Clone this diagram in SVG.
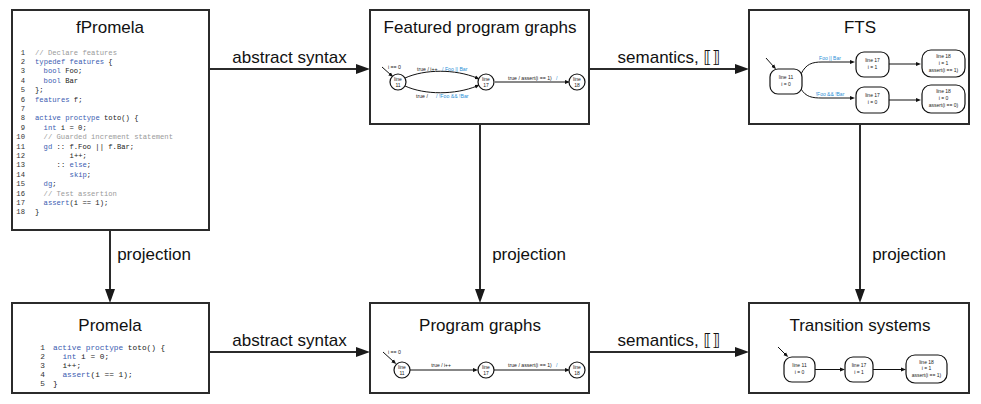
<svg xmlns="http://www.w3.org/2000/svg" width="981" height="404" viewBox="0 0 981 404">
<style>
.box{fill:#fff;stroke:#2b2b2b;stroke-width:2}
.title{font-family:"Liberation Sans",Arial,sans-serif;font-size:17px;fill:#111;text-anchor:middle}
.lbl{font-family:"Liberation Sans",Arial,"DejaVu Sans",sans-serif;font-size:17px;fill:#111;text-anchor:middle}
.conn{stroke:#2b2b2b;stroke-width:2;fill:none}
.code{font-family:"Liberation Mono","DejaVu Sans Mono",monospace;font-size:7.2px;fill:#222}
.code2{font-family:"Liberation Mono","DejaVu Sans Mono",monospace;font-size:7.8px;fill:#222}
.num{text-anchor:end;fill:#333}
.kw{fill:#3a5bb0}
.cm{fill:#9a9a9a}
.mini{stroke:#111;stroke-width:1;fill:none}
.st{fill:#fff;stroke:#111;stroke-width:1.2}
.t{font-family:"Liberation Sans",Arial,sans-serif;font-size:5px;fill:#222;text-anchor:middle}
.tl{font-family:"Liberation Sans",Arial,sans-serif;font-size:5.2px;fill:#222}
.blue{fill:#2b8fd6}
</style>
<defs>
<marker id="ah" markerUnits="userSpaceOnUse" markerWidth="14" markerHeight="12" refX="6" refY="6" orient="auto">
<path d="M0,1 L14,6 L0,11 z" fill="#1a1a1a"/>
</marker>
<marker id="sm" markerUnits="userSpaceOnUse" markerWidth="5" markerHeight="5" refX="2" refY="2.5" orient="auto">
<path d="M0,0.5 L5,2.5 L0,4.5 z" fill="#111"/>
</marker>
</defs>

<g id="connectors">
<line class="conn" x1="209" y1="69" x2="362" y2="69" marker-end="url(#ah)"/>
<text class="lbl" x="289.5" y="63">abstract syntax</text>
<line class="conn" x1="589" y1="69" x2="741" y2="69" marker-end="url(#ah)"/>
<text class="lbl" x="669" y="63">semantics, ⟦⟧</text>
<line class="conn" x1="209" y1="352" x2="362" y2="352" marker-end="url(#ah)"/>
<text class="lbl" x="289.5" y="346">abstract syntax</text>
<line class="conn" x1="589" y1="352" x2="741" y2="352" marker-end="url(#ah)"/>
<text class="lbl" x="669" y="346">semantics, ⟦⟧</text>
<line class="conn" x1="110" y1="230" x2="110" y2="295" marker-end="url(#ah)"/>
<text class="lbl" x="154" y="260">projection</text>
<line class="conn" x1="480" y1="124" x2="480" y2="295" marker-end="url(#ah)"/>
<text class="lbl" x="529" y="260">projection</text>
<line class="conn" x1="860" y1="124" x2="860" y2="295" marker-end="url(#ah)"/>
<text class="lbl" x="909" y="260">projection</text>
</g>

<g id="fpromela">
<rect class="box" x="12" y="10" width="197" height="220"/>
<text class="title" x="110" y="33">fPromela</text>
<g class="code">
<text class="num" x="25" y="54.5">1</text><text x="35" y="54.5" class="cm">// Declare features</text>
<text class="num" x="25" y="63.9">2</text><text x="35" y="63.9"><tspan class="kw">typedef features</tspan> {</text>
<text class="num" x="25" y="73.3">3</text><text x="43.6" y="73.3"><tspan class="kw">bool</tspan> Foo;</text>
<text class="num" x="25" y="82.7">4</text><text x="43.6" y="82.7"><tspan class="kw">bool</tspan> Bar</text>
<text class="num" x="25" y="92.1">5</text><text x="35" y="92.1">};</text>
<text class="num" x="25" y="101.5">6</text><text x="35" y="101.5"><tspan class="kw">features</tspan> f;</text>
<text class="num" x="25" y="110.9">7</text>
<text class="num" x="25" y="120.3">8</text><text x="35" y="120.3"><tspan class="kw">active proctype</tspan> toto() {</text>
<text class="num" x="25" y="129.7">9</text><text x="43.6" y="129.7"><tspan class="kw">int</tspan> i = 0;</text>
<text class="num" x="25" y="139.1">10</text><text x="43.6" y="139.1" class="cm">// Guarded increment statement</text>
<text class="num" x="25" y="148.5">11</text><text x="43.6" y="148.5"><tspan class="kw">gd</tspan> :: f.Foo || f.Bar;</text>
<text class="num" x="25" y="157.9">12</text><text x="69.6" y="157.9">i++;</text>
<text class="num" x="25" y="167.3">13</text><text x="56.6" y="167.3">:: <tspan class="kw">else</tspan>;</text>
<text class="num" x="25" y="176.7">14</text><text x="69.6" y="176.7"><tspan class="kw">skip</tspan>;</text>
<text class="num" x="25" y="186.1">15</text><text x="43.6" y="186.1"><tspan class="kw">dg</tspan>;</text>
<text class="num" x="25" y="195.5">16</text><text x="43.6" y="195.5" class="cm">// Test assertion</text>
<text class="num" x="25" y="204.9">17</text><text x="43.6" y="204.9"><tspan class="kw">assert</tspan>(i == 1);</text>
<text class="num" x="25" y="214.3">18</text><text x="35" y="214.3">}</text>
</g>
</g>

<g id="featured-program-graphs">
<rect class="box" x="370" y="10" width="219" height="114"/>
<text class="title" x="480" y="33">Featured program graphs</text>
<g class="mini">
<line x1="382" y1="67" x2="391" y2="75" marker-end="url(#sm)"/>
<path d="M405,78 C425,69 455,69 477,78" marker-end="url(#sm)"/>
<path d="M405,86 C425,95 455,95 477,86" marker-end="url(#sm)"/>
<line x1="495" y1="82" x2="567" y2="82" marker-end="url(#sm)"/>
</g>
<text class="tl" x="388" y="69">i == 0</text>
<text class="tl" x="417" y="70.5">true / i++</text>
<text class="tl blue" x="442" y="70.5">/ Foo || Bar</text>
<text class="tl" x="416" y="98">true /</text>
<text class="tl blue" x="436" y="98">/ !Foo &amp;&amp; !Bar</text>
<text class="tl" x="508" y="80">true / assert(i == 1)</text>
<text class="tl blue" x="556" y="80">/</text>
<g id="fpg-l11"><circle class="st" cx="398" cy="82" r="8"/><text class="t" x="398" y="80.5">line</text><text class="t" x="398" y="87">11</text></g>
<g id="fpg-l17"><circle class="st" cx="486" cy="82" r="8"/><text class="t" x="486" y="80.5">line</text><text class="t" x="486" y="87">17</text></g>
<g id="fpg-l18"><circle class="st" cx="577" cy="82" r="8"/><text class="t" x="577" y="80.5">line</text><text class="t" x="577" y="87">18</text></g>
</g>

<g id="fts">
<rect class="box" x="749" y="10" width="220" height="114"/>
<text class="title" x="860" y="33">FTS</text>
<g class="mini">
<line x1="766" y1="58" x2="774" y2="67" marker-end="url(#sm)"/>
<path d="M801,74 C806,64 812,62 822,62 L852,62" marker-end="url(#sm)"/>
<path d="M801,89 C806,97 812,98 822,98 L852,98" marker-end="url(#sm)"/>
<line x1="889" y1="64" x2="918" y2="64" marker-end="url(#sm)"/>
<line x1="889" y1="100" x2="918" y2="100" marker-end="url(#sm)"/>
</g>
<text class="t blue" x="830" y="59.5">Foo || Bar</text>
<text class="t blue" x="830" y="96">!Foo &amp;&amp; !Bar</text>
<g id="fts-l11"><rect class="st" x="770" y="69" width="32" height="25" rx="8"/><text class="t" x="786" y="79">line 11</text><text class="t" x="786" y="86">i = 0</text></g>
<g id="fts-l17a"><rect class="st" x="856" y="52" width="33" height="25" rx="8"/><text class="t" x="872.5" y="62">line 17</text><text class="t" x="872.5" y="69">i = 1</text></g>
<g id="fts-l18a"><rect class="st" x="922" y="50" width="43" height="27" rx="9"/><text class="t" x="943.5" y="57.5">line 18</text><text class="t" x="943.5" y="64.5">i = 1</text><text class="t" x="943.5" y="71.5">assert(i == 1)</text></g>
<g id="fts-l17b"><rect class="st" x="856" y="87" width="33" height="26" rx="8"/><text class="t" x="872.5" y="97">line 17</text><text class="t" x="872.5" y="104">i = 0</text></g>
<g id="fts-l18b"><rect class="st" x="922" y="85" width="43" height="28" rx="9"/><text class="t" x="943.5" y="93">line 18</text><text class="t" x="943.5" y="100">i = 0</text><text class="t" x="943.5" y="107">assert(i == 0)</text></g>
</g>

<g id="promela">
<rect class="box" x="12" y="303" width="197" height="90"/>
<text class="title" x="110" y="331">Promela</text>
<g class="code2">
<text class="num" x="45" y="349.5">1</text><text x="53" y="349.5"><tspan class="kw">active proctype</tspan> toto() {</text>
<text class="num" x="45" y="358.5">2</text><text x="62.4" y="358.5"><tspan class="kw">int</tspan> i = 0;</text>
<text class="num" x="45" y="367.5">3</text><text x="62.4" y="367.5">i++;</text>
<text class="num" x="45" y="376.5">4</text><text x="62.4" y="376.5"><tspan class="kw">assert</tspan>(i == 1);</text>
<text class="num" x="45" y="385.5">5</text><text x="53" y="385.5">}</text>
</g>
</g>

<g id="program-graphs">
<rect class="box" x="370" y="303" width="219" height="90"/>
<text class="title" x="480" y="331">Program graphs</text>
<g class="mini">
<line x1="383" y1="352" x2="394" y2="362" marker-end="url(#sm)"/>
<line x1="410" y1="370" x2="475" y2="370" marker-end="url(#sm)"/>
<line x1="494" y1="370" x2="567" y2="370" marker-end="url(#sm)"/>
</g>
<text class="tl" x="388" y="353.5">i == 0</text>
<text class="t" x="441" y="366.5">true / i++</text>
<text class="tl" x="508" y="366.5">true / assert(i == 1)</text>
<text class="tl blue" x="556" y="366.5">/</text>
<g id="pg-l11"><circle class="st" cx="402" cy="370" r="8"/><text class="t" x="402" y="368.5">line</text><text class="t" x="402" y="375">11</text></g>
<g id="pg-l17"><circle class="st" cx="486" cy="370" r="8"/><text class="t" x="486" y="368.5">line</text><text class="t" x="486" y="375">17</text></g>
<g id="pg-l18"><circle class="st" cx="577" cy="370" r="8"/><text class="t" x="577" y="368.5">line</text><text class="t" x="577" y="375">18</text></g>
</g>

<g id="transition-systems">
<rect class="box" x="749" y="303" width="220" height="90"/>
<text class="title" x="860" y="331">Transition systems</text>
<g class="mini">
<line x1="778" y1="347" x2="786" y2="355" marker-end="url(#sm)"/>
<line x1="815" y1="369.5" x2="842" y2="369.5" marker-end="url(#sm)"/>
<line x1="873" y1="369.5" x2="903" y2="369.5" marker-end="url(#sm)"/>
</g>
<g id="ts-l11"><rect class="st" x="784" y="357" width="31" height="25" rx="8"/><text class="t" x="799.5" y="367">line 11</text><text class="t" x="799.5" y="374">i = 0</text></g>
<g id="ts-l17"><rect class="st" x="845" y="357" width="28" height="25" rx="8"/><text class="t" x="859" y="367">line 17</text><text class="t" x="859" y="374">i = 1</text></g>
<g id="ts-l18"><rect class="st" x="906" y="355" width="41" height="28" rx="9"/><text class="t" x="926.5" y="363.5">line 18</text><text class="t" x="926.5" y="370">i = 1</text><text class="t" x="926.5" y="377">assert(i == 1)</text></g>
</g>
</svg>
